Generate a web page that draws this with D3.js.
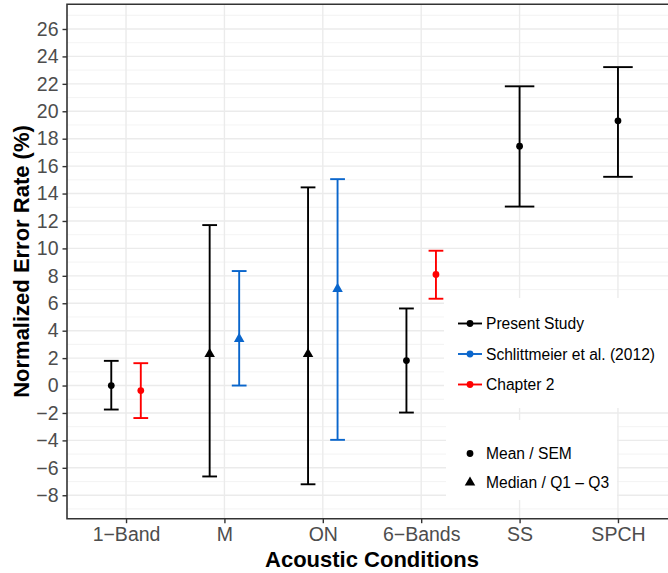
<!DOCTYPE html>
<html>
<head>
<meta charset="utf-8">
<script src="https://cdn.jsdelivr.net/npm/d3@7"></script>
<style>
  body { margin: 0; background: #fff; }
  svg { display: block; font-family: "Liberation Sans", Arial, Helvetica, sans-serif; }
</style>
</head>
<body>
<div id="chart"></div>
<script>
// error-rate chart: three studies, mean/SEM or median/IQR per condition

const conditions = ["1\u2212Band", "M", "ON", "6\u2212Bands", "SS", "SPCH"];

// Present study (all six conditions)
const presentCenter = [0, 2.3, 2.3, 1.82, 17.45, 19.3];
const presentLow = [-1.75, -6.63, -7.2, -1.97, 13.05, 15.22];
const presentHigh = [1.8, 11.7, 14.45, 5.62, 21.82, 23.22];
const presentStat = ["mean", "median", "median", "mean", "mean", "mean"];

// Schlittmeier et al. (2012)
const schlittCond = ["M", "ON"];
const schlittCenter = [3.4, 7.05];
const schlittLow = [0, -3.96];
const schlittHigh = [8.35, 15.05];
const schlittStat = ["median", "median"];

// Chapter 2
const chapCond = ["1\u2212Band", "6\u2212Bands"];
const chapCenter = [-0.37, 8.1];
const chapLow = [-2.37, 6.33];
const chapHigh = [1.63, 9.83];
const chapStat = ["mean", "mean"];

const seriesNames = ["Present Study", "Schlittmeier et al. (2012)", "Chapter 2"];
const seriesColors = ["#000000", "#0A66CC", "#FF0000"];
const statNames = ["Mean / SEM", "Median / Q1 \u2013 Q3"];

const yMajor = d3.range(-8, 27, 2);
const yMinor = d3.range(-9, 28, 2);

const width = 668, height = 573;
const panel = { left: 67, top: 4.3, bottom: 518.7, right: 677 };

const svg = d3.select('#chart').append('svg')
  .attr('width', width)
  .attr('height', height);

const x = d3.scaleLinear().domain([0.4, 6.6]).range([panel.left, panel.right]);
const y = d3.scaleLinear().domain([-9.71, 27.8]).range([panel.bottom, panel.top]);

// gridlines
const grid = svg.append('g');
grid.selectAll('line.minor').data(yMinor).enter().append('line')
  .attr('x1', panel.left).attr('x2', panel.right)
  .attr('y1', d => y(d)).attr('y2', d => y(d))
  .attr('stroke', '#F0F0F0').attr('stroke-width', 0.8);
grid.selectAll('line.major').data(yMajor).enter().append('line')
  .attr('x1', panel.left).attr('x2', panel.right)
  .attr('y1', d => y(d)).attr('y2', d => y(d))
  .attr('stroke', '#EBEBEB').attr('stroke-width', 1.4);
grid.selectAll('line.vert').data(d3.range(1, 7)).enter().append('line')
  .attr('x1', d => x(d)).attr('x2', d => x(d))
  .attr('y1', panel.top).attr('y2', panel.bottom)
  .attr('stroke', '#EBEBEB').attr('stroke-width', 1.4);

// build records
const records = [];
conditions.forEach((c, i) => records.push({
  cond: c, center: presentCenter[i], low: presentLow[i], high: presentHigh[i],
  stat: presentStat[i], series: 0
}));
schlittCond.forEach((c, i) => records.push({
  cond: c, center: schlittCenter[i], low: schlittLow[i], high: schlittHigh[i],
  stat: schlittStat[i], series: 1
}));
chapCond.forEach((c, i) => records.push({
  cond: c, center: chapCenter[i], low: chapLow[i], high: chapHigh[i],
  stat: chapStat[i], series: 2
}));

// dodge: conditions with two series share the slot
const counts = d3.rollup(records, v => v.length, d => d.cond);
records.forEach(d => {
  const base = conditions.indexOf(d.cond) + 1;
  const n = counts.get(d.cond);
  if (n > 1) {
    d.xv = base + (d.series === 0 ? -0.15 : 0.15);
    d.cap = 0.075;
  } else {
    d.xv = base;
    d.cap = 0.15;
  }
});

const bars = svg.append('g');
const eb = bars.selectAll('g').data(records).enter().append('g')
  .attr('stroke', d => seriesColors[d.series])
  .attr('stroke-width', 1.9);
eb.append('line')
  .attr('x1', d => x(d.xv)).attr('x2', d => x(d.xv))
  .attr('y1', d => y(d.low)).attr('y2', d => y(d.high));
eb.append('line')
  .attr('x1', d => x(d.xv - d.cap)).attr('x2', d => x(d.xv + d.cap))
  .attr('y1', d => y(d.low)).attr('y2', d => y(d.low));
eb.append('line')
  .attr('x1', d => x(d.xv - d.cap)).attr('x2', d => x(d.xv + d.cap))
  .attr('y1', d => y(d.high)).attr('y2', d => y(d.high));

const circleSym = d3.symbol().type(d3.symbolCircle).size(36);
const triSym = d3.symbol().type(d3.symbolTriangle).size(48);

bars.selectAll('path.pt').data(records).enter().append('path')
  .attr('class', 'pt')
  .attr('d', d => d.stat === 'mean' ? circleSym() : triSym())
  .attr('transform', d => `translate(${x(d.xv)},${y(d.center)})`)
  .attr('fill', d => seriesColors[d.series]);

// panel border (left, top, bottom)
svg.append('path')
  .attr('d', `M${panel.right},${panel.top}H${panel.left}V${panel.bottom}H${panel.right}`)
  .attr('fill', 'none')
  .attr('stroke', '#333333')
  .attr('stroke-width', 1.6);

// axes
const yAxis = svg.append('g')
  .attr('transform', `translate(${panel.left},0)`)
  .call(d3.axisLeft(y).tickValues(yMajor).tickSize(4.5).tickPadding(4));
const xAxis = svg.append('g')
  .attr('transform', `translate(0,${panel.bottom})`)
  .call(d3.axisBottom(x).tickValues(d3.range(1, 7))
    .tickFormat(i => conditions[i - 1]).tickSize(4.5).tickPadding(4));
[yAxis, xAxis].forEach(a => {
  a.select('.domain').remove();
  a.selectAll('.tick line').attr('stroke', '#333333').attr('stroke-width', 1.4);
  a.selectAll('.tick text')
    .attr('fill', '#4D4D4D')
    .style('font-size', '19.5px')
    .style('font-family', '"Liberation Sans", Arial, sans-serif');
});

// axis titles
svg.append('text')
  .attr('x', (panel.left + panel.right) / 2)
  .attr('y', 567)
  .attr('text-anchor', 'middle')
  .style('font-size', '22px')
  .style('font-weight', 'bold')
  .text('Acoustic Conditions');

svg.append('text')
  .attr('transform', `translate(29,${(panel.top + panel.bottom) / 2}) rotate(-90)`)
  .attr('text-anchor', 'middle')
  .style('font-size', '22px')
  .style('font-weight', 'bold')
  .text('Normalized Error Rate (%)');

// legend 1: series
const leg1 = svg.append('g');
leg1.append('rect')
  .attr('x', 444).attr('y', 298).attr('width', 240).attr('height', 110)
  .attr('fill', '#fff');
const leg1Rows = leg1.selectAll('g.row').data(seriesNames).enter().append('g')
  .attr('transform', (d, i) => `translate(470,${323.5 + i * 30.5})`);
leg1Rows.append('line')
  .attr('x1', -12).attr('x2', 12)
  .attr('stroke', (d, i) => seriesColors[i]).attr('stroke-width', 1.9);
leg1Rows.append('path')
  .attr('d', circleSym())
  .attr('fill', (d, i) => seriesColors[i]);
leg1Rows.append('text')
  .attr('x', 16).attr('dy', '0.36em')
  .style('font-size', '15.6px')
  .text(d => d);

// legend 2: statistic shapes
const leg2 = svg.append('g');
leg2.append('rect')
  .attr('x', 446).attr('y', 420).attr('width', 171).attr('height', 80)
  .attr('fill', '#fff');
const leg2Rows = leg2.selectAll('g.row').data(statNames).enter().append('g')
  .attr('transform', (d, i) => `translate(470,${453.5 + i * 29})`);
leg2Rows.append('path')
  .attr('d', (d, i) => i === 0 ? circleSym() : triSym())
  .attr('fill', '#000');
leg2Rows.append('text')
  .attr('x', 16).attr('dy', '0.36em')
  .style('font-size', '15.6px')
  .text(d => d);
</script>
</body>
</html>
